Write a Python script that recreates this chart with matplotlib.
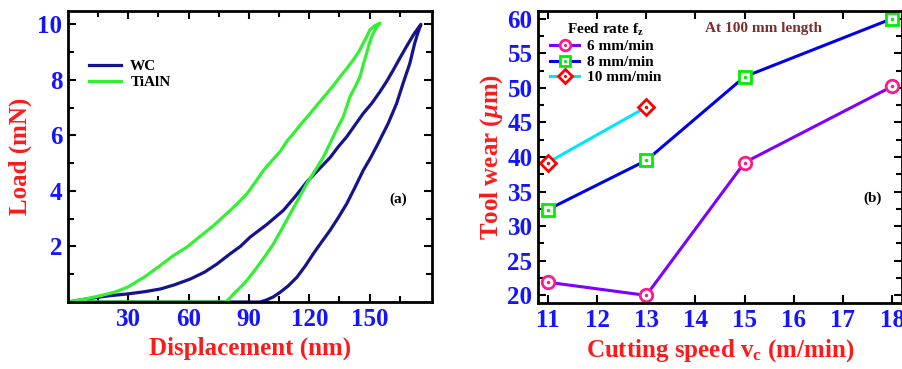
import matplotlib
matplotlib.use("Agg")
import matplotlib.pyplot as plt
from matplotlib.ticker import MultipleLocator, FixedLocator
from matplotlib.legend_handler import HandlerTuple

plt.rcParams['font.family'] = ['Liberation Serif', 'DejaVu Serif']
plt.rcParams['font.weight'] = 'bold'
plt.rcParams['mathtext.fontset'] = 'custom'
plt.rcParams['mathtext.rm'] = 'Liberation Serif:bold'
plt.rcParams['mathtext.bf'] = 'Liberation Serif:bold'
plt.rcParams['mathtext.it'] = 'Liberation Serif:bold:italic'

# ---------------- (a) load-displacement data ----------------
wc_load_x = [0, 10, 20, 29.5, 38, 46, 53, 60.9, 68, 74.1, 80.7, 85.7, 90.6, 99, 107.1, 113, 118.7, 125,
             130.3, 134.5, 138.6, 142.5, 146.8, 151, 155.1, 158.5, 161.7, 165, 168.3, 172, 175.5]
wc_load_y = [0, 0.12, 0.22, 0.29, 0.37, 0.47, 0.62, 0.83, 1.08, 1.37, 1.74, 2.0, 2.34, 2.8, 3.3, 3.8, 4.32, 4.8,
             5.2, 5.6, 5.95, 6.35, 6.79, 7.15, 7.57, 7.95, 8.35, 8.78, 9.2, 9.65, 10.0]
wc_unl_x = [175.5, 174, 172.4, 170, 166.6, 163.4, 159.2, 154.2, 150.5, 146.8, 142.5, 138.6, 134.5, 130.3,
            126, 122, 118, 113.8, 109.5, 105.5, 102, 98.9, 95.6, 50, 0]
wc_unl_y = [10.0, 9.7, 9.32, 8.6, 7.87, 7.15, 6.43, 5.71, 5.2, 4.74, 4.1, 3.54, 3.05, 2.58,
            2.15, 1.74, 1.3, 0.89, 0.58, 0.35, 0.18, 0.08, 0.0, 0.0, 0.0]

ti_load_x = [0, 8, 16.3, 23, 29.5, 38, 46, 52, 59.2, 66, 72.5, 80.7, 85, 89, 93, 97.2, 101.5, 105.5, 109,
             112.1, 116, 120.4, 124.5, 128.7, 132, 135.3, 138.5, 141.8, 144.5, 146.8, 148.5, 150.1, 152.5, 155.1]
ti_load_y = [0, 0.1, 0.23, 0.35, 0.53, 0.9, 1.32, 1.65, 1.98, 2.38, 2.76, 3.3, 3.6, 3.9, 4.3, 4.74, 5.1, 5.42, 5.8,
             6.07, 6.42, 6.79, 7.15, 7.51, 7.8, 8.11, 8.4, 8.71, 9.0, 9.32, 9.55, 9.8, 9.95, 10.04]
ti_unl_x = [155.1, 153.5, 151.8, 150, 148.5, 146.8, 145.2, 142.8, 140.2, 136.9, 133.5, 130.3, 127, 123,
            118.7, 114.5, 110.5, 106.5, 102.2, 98, 94, 89, 86, 84, 82.4, 80, 78.5, 77.5, 40, 0]
ti_unl_y = [10.04, 9.9, 9.68, 9.35, 8.96, 8.55, 8.11, 7.75, 7.39, 6.67, 6.2, 5.71, 5.22, 4.75,
            4.26, 3.7, 3.18, 2.65, 2.1, 1.65, 1.25, 0.78, 0.55, 0.41, 0.3, 0.1, 0.02, 0.0, 0.0, 0.0]

# ---------------- (b) tool wear data ----------------
speed_6 = [11, 13, 15, 18]
wear_6 = [21.9, 20.0, 39.2, 50.2]
speed_8 = [11, 13, 15, 18]
wear_8 = [32.4, 39.5, 51.6, 60.0]
speed_10 = [11, 13]
wear_10 = [39.2, 47.2]

tick_blue = '#1414ff'
label_red = '#ff1a1a'

fig = plt.figure(figsize=(9.03, 3.69), dpi=100)
W, H = 903, 369
axA = fig.add_axes([68 / W, (H - 302) / H, (432 - 68) / W, (302 - 11) / H])
axB = fig.add_axes([538 / W, (H - 303) / H, (902 - 538) / W, (303 - 11) / H])

for ax in (axA, axB):
    for s in ax.spines.values():
        s.set_linewidth(2.0)
    ax.tick_params(which='both', direction='in', top=True, right=True,
                   colors='black', labelcolor=tick_blue, width=1.5)
    ax.tick_params(which='major', length=6)
    ax.tick_params(which='minor', length=4)

# panel (a)
navy = '#14148c'
green = '#33f033'
axA.plot(wc_load_x + wc_unl_x, wc_load_y + wc_unl_y, color=navy, lw=2.3, label='WC')
axA.plot(ti_load_x + ti_unl_x, ti_load_y + ti_unl_y, color=green, lw=2.3, label='TiAlN')
axA.set_xlim(0, 181)
axA.set_ylim(0, 10.48)
axA.xaxis.set_major_locator(FixedLocator([30, 60, 90, 120, 150]))
axA.xaxis.set_minor_locator(FixedLocator([15, 45, 75, 105, 135, 165]))
axA.yaxis.set_major_locator(FixedLocator([2, 4, 6, 8, 10]))
axA.yaxis.set_minor_locator(FixedLocator([1, 3, 5, 7, 9]))
axA.tick_params(axis='both', labelsize=18, pad=4)
axA.set_xlabel('Displacement (nm)', color=label_red, fontsize=18, fontweight='bold', labelpad=4)
axA.set_ylabel('Load (mN)', color=label_red, fontsize=18, fontweight='bold', labelpad=4)
axA.legend(loc='upper left', bbox_to_anchor=(0.02, 0.88), frameon=False, fontsize=11,
           handlelength=2.1, handletextpad=0.6, labelspacing=0.15)
axA.text(164, 3.7, '(a)', fontsize=11, fontweight='bold', color='black', ha='center', va='center')

# panel (b)
l6, = axB.plot(speed_6, wear_6, color='#7f00ff', lw=2.2, marker='o', ms=9, mfc='white',
               mec='#ff1a8c', mew=2.0)
d6, = axB.plot(speed_6, wear_6, ls='none', marker='.', ms=3, color='#ff1a8c')
l8, = axB.plot(speed_8, wear_8, color='#0000ee', lw=2.2, marker='s', ms=8.5, mfc='white',
               mec='#00ee00', mew=2.0)
d8, = axB.plot(speed_8, wear_8, ls='none', marker='.', ms=3, color='#00ee00')
l10, = axB.plot(speed_10, wear_10, color='#00e5ff', lw=2.2, marker='D', ms=8, mfc='white',
                mec='#ff0000', mew=2.0)
d10, = axB.plot(speed_10, wear_10, ls='none', marker='.', ms=3, color='#ff0000')
axB.set_xlim(10.8, 18.2)
axB.set_ylim(18.9, 61.1)
axB.xaxis.set_major_locator(MultipleLocator(1))
axB.yaxis.set_major_locator(MultipleLocator(5))
axB.yaxis.set_minor_locator(MultipleLocator(2.5))
axB.tick_params(axis='both', labelsize=18, pad=4)
axB.set_xlabel('Cutting speed v$_\\mathregular{c}$ (m/min)', color=label_red, fontsize=18,
               fontweight='bold', labelpad=4)
axB.set_ylabel('Tool wear ($\\mu$m)', color=label_red, fontsize=18, fontweight='bold', labelpad=2)
leg = axB.legend([(l6, d6), (l8, d8), (l10, d10)], ['6 mm/min', '8 mm/min', '10 mm/min'],
                 handler_map={tuple: HandlerTuple(ndivide=1)},
                 title='Feed rate f$_\\mathregular{z}$', loc='upper left', bbox_to_anchor=(0.0, 1.005),
                 frameon=False, fontsize=11, title_fontsize=11, numpoints=1, markerscale=0.85,
                 handlelength=1.9, handletextpad=0.5, labelspacing=0.12, borderpad=0.3)
leg.get_title().set_fontweight('bold')
axB.text(15.38, 58.6, 'At 100 mm length', color='#7a2e2e', fontsize=11, fontweight='bold',
         ha='center', va='center')
axB.text(17.61, 34.0, '(b)', color='black', fontsize=11, fontweight='bold', ha='center', va='center')

fig.savefig('out.png', dpi=100)
